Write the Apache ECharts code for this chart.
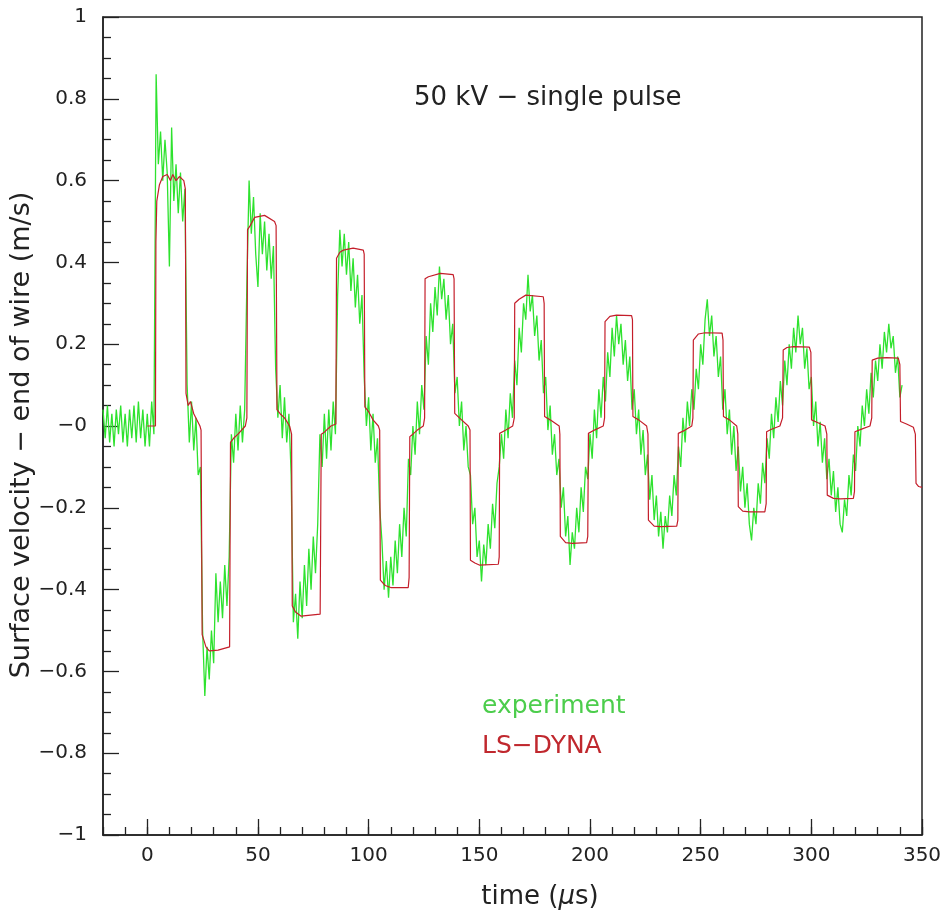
<!DOCTYPE html>
<html><head><meta charset="utf-8">
<script src="https://cdn.jsdelivr.net/npm/echarts@6/dist/echarts.min.js"></script>
<style>html,body{margin:0;padding:0;background:#fff}#c{width:944px;height:912px}</style>
</head><body><div id="c"></div><script>
// experiment: sampled every 1 µs starting at -20 µs
const expStart = -20;
const expStep = 1;
const expV = [
 0.04,-0.03,0.05,-0.04,0.03,-0.05,0.04,-0.02,0.05,-0.04,
 0.03,-0.05,0.04,-0.03,0.05,-0.04,0.06,-0.03,0.04,-0.05,
 0.03,-0.05,0.06,-0.02,
 0.86,0.64,0.72,0.6,0.7,0.62,0.39,0.73,0.55,0.64,0.52,0.62,0.5,0.58,
 0.1,-0.04,0.06,-0.06,0.02,-0.12,-0.1,
 -0.5,-0.66,-0.54,-0.62,-0.5,-0.58,-0.36,-0.48,-0.38,-0.47,-0.34,-0.44,-0.32,
 -0.02,-0.09,0.03,-0.06,0.05,-0.04,0.04,
 0.35,0.6,0.47,0.56,0.42,0.34,0.52,0.42,0.5,0.38,0.47,0.36,0.44,
 0.14,0.02,0.1,-0.03,0.07,-0.04,0.03,
 -0.12,-0.48,-0.41,-0.52,-0.38,-0.47,-0.34,-0.44,-0.3,-0.4,-0.27,-0.36,-0.24,
 -0.02,-0.1,0.03,-0.08,0.04,-0.06,0.06,-0.02,
 0.32,0.48,0.39,0.47,0.37,0.45,0.33,0.41,0.29,0.37,0.25,0.32,
 0.12,0.0,0.07,-0.06,0.03,-0.09,-0.03,
 -0.2,-0.28,-0.4,-0.33,-0.42,-0.32,-0.39,-0.28,-0.36,-0.24,-0.32,-0.2,-0.27,
 -0.08,-0.12,0.0,-0.07,0.06,-0.02,0.1,0.04,
 0.22,0.15,0.3,0.23,0.34,0.27,0.39,0.31,0.36,0.26,0.32,0.2,0.25,
 0.08,0.12,0.0,0.06,-0.06,0.0,-0.1,
 -0.12,-0.24,-0.2,-0.32,-0.28,-0.38,-0.29,-0.34,-0.24,-0.3,-0.19,-0.25,-0.14,
 -0.1,-0.02,-0.08,0.04,-0.03,0.08,0.02,
 0.16,0.1,0.24,0.18,0.3,0.26,0.37,0.28,0.32,0.22,0.27,0.16,0.21,
 0.08,0.12,-0.01,0.05,-0.07,-0.02,-0.12,-0.08,
 -0.2,-0.15,-0.27,-0.22,-0.34,-0.26,-0.3,-0.2,-0.26,-0.15,-0.21,-0.1,
 -0.13,-0.02,-0.08,0.04,-0.03,0.09,0.02,0.12,
 0.06,0.18,0.12,0.24,0.17,0.27,0.2,0.25,0.15,0.21,0.11,0.17,
 0.04,0.09,-0.02,0.04,-0.07,-0.01,-0.12,-0.07,
 -0.18,-0.12,-0.23,-0.17,-0.27,-0.21,-0.3,-0.22,-0.26,-0.17,-0.22,-0.12,-0.17,
 -0.05,-0.1,0.02,-0.04,0.06,0.0,0.09,
 0.04,0.14,0.09,0.2,0.15,0.26,0.31,0.22,0.27,0.17,0.22,0.12,0.17,
 0.04,0.09,-0.02,0.04,-0.07,0.0,-0.11,-0.05,
 -0.16,-0.1,-0.2,-0.14,-0.24,-0.28,-0.2,-0.24,-0.14,-0.19,-0.09,-0.14,
 -0.03,-0.08,0.03,-0.03,0.07,0.01,0.11,0.05,
 0.16,0.1,0.2,0.14,0.24,0.18,0.27,0.2,0.24,0.14,0.19,0.09,
 0.12,0.0,0.06,-0.05,0.01,-0.09,-0.03,-0.13,
 -0.08,-0.17,-0.11,-0.21,-0.15,-0.24,-0.26,-0.18,-0.22,-0.12,-0.17,-0.07,
 -0.11,0.0,-0.05,0.05,0.0,0.09,0.03,0.13,
 0.07,0.16,0.11,0.2,0.14,0.23,0.18,0.25,0.19,0.22,0.13,0.17,0.07,0.1
];
// LS-DYNA simulation
const dynaT = [
 0,3.7,3.9,4.3,5.5,7,9,10.5,11.5,13,14.5,16.5,17.2,17.5,18.5,19.5,21,23.8,24.3,24.8,26.5,28,32,37.2,37.6,39,41,44.3,45,45.3,46.5,48.5,53,57.5,58.2,58.6,60,62,64.3,65.2,65.5,67,69.5,78.1,78.6,80,83,85.2,85.5,87,88.6,93,97.6,98,98.3,100,102,104.4,105,105.3,107.5,110,117.9,118.3,118.6,120,122,124.7,125.3,125.5,127,132.4,138.2,138.6,138.9,141,145,145.8,146,148,150,158.6,159,159.2,162,165.1,165.8,166,168,171,178.9,179.3,179.5,182,186.1,186.4,186.6,189,192,198.5,199,199.3,202,206,206.6,206.8,209,212,218.8,219.2,219.4,222,225.6,226.2,226.4,229,232,239.2,239.7,239.9,243,246,246.5,246.7,249,252,259.7,260.1,260.3,263,266.3,266.8,267,269,272,279,279.6,279.8,282,285.8,287,287.3,289,292,299.1,299.8,300.1,303,306.2,307,307.2,310,313,319,319.5,319.7,323,326.5,327.3,327.5,330,334,339.3,340,340.3,343,346.1,347,347.3,348.5,350
];
const dynaV = [
 0,0,0.45,0.55,0.59,0.61,0.615,0.6,0.615,0.6,0.61,0.6,0.58,0.08,0.05,0.06,0.03,0.0,-0.01,-0.51,-0.54,-0.55,-0.548,-0.54,-0.04,-0.03,-0.02,0.0,0.02,0.48,0.49,0.51,0.515,0.5,0.49,0.04,0.03,0.02,0.0,-0.02,-0.44,-0.455,-0.465,-0.46,-0.02,-0.015,0.0,0.005,0.41,0.425,0.43,0.435,0.43,0.42,0.047,0.035,0.015,0.0,-0.01,-0.377,-0.39,-0.395,-0.395,-0.37,-0.026,-0.02,-0.01,0.0,0.02,0.36,0.365,0.373,0.37,0.36,0.031,0.02,0.0,-0.01,-0.328,-0.335,-0.34,-0.338,-0.32,-0.018,-0.01,0.0,0.02,0.3,0.31,0.32,0.316,0.3,0.023,0.015,0.0,-0.02,-0.27,-0.285,-0.287,-0.285,-0.27,-0.018,-0.01,0.0,0.02,0.255,0.268,0.271,0.27,0.26,0.023,0.015,0.0,-0.02,-0.23,-0.245,-0.246,-0.245,-0.23,-0.018,-0.01,0.0,0.02,0.21,0.225,0.228,0.227,0.21,0.023,0.015,0.0,-0.02,-0.197,-0.208,-0.21,-0.21,-0.19,-0.014,-0.008,0.0,0.02,0.186,0.192,0.194,0.193,0.18,0.015,0.008,0.0,-0.02,-0.169,-0.177,-0.178,-0.177,-0.16,-0.014,-0.007,0.0,0.02,0.161,0.166,0.167,0.166,0.15,0.011,0.005,-0.003,-0.02,-0.14,-0.148,-0.15
];
const xMajorTicks = [0,50,100,150,200,250,300,350];
const xMinorInterval = 10;
const seriesNames = ['experiment', 'LS\u2212DYNA'];
const noteText = '50 kV \u2212 single pulse';
const yTitle = 'Surface velocity \u2212 end of wire (m/s)';
const xTitle = 'time ({i|\u03bc}s)';

const FONT = 'DejaVu Sans';
const INK = '#222';
const GREEN = '#2ee22e';
const RED = '#c41e2a';

const expData = expV.map((v, i) => [expStart + i * expStep, v]);
const dynaData = dynaT.map((t, i) => [t, dynaV[i]]);
const MINUS = '\u2212';
function fmtY(v) {
  if (Math.abs(v) < 1e-9) return MINUS + '0';
  const s = String(Math.round(Math.abs(v) * 10) / 10);
  return v < 0 ? MINUS + s : s;
}

const chart = echarts.init(document.getElementById('c'), null, {renderer: 'canvas'});
chart.setOption({
  animation: false,
  backgroundColor: '#fff',
  textStyle: {fontFamily: FONT},
  grid: {left: 103, right: 22, top: 17, bottom: 77, show: true, borderColor: INK, borderWidth: 1.5,
         backgroundColor: 'transparent', outerBoundsMode: 'none', containLabel: false},
  xAxis: [{
    type: 'value', min: -20, max: 350, interval: xMinorInterval, position: 'bottom',
    axisLine: {show: true, onZero: false, lineStyle: {color: INK, width: 1.5}},
    axisTick: {show: true, inside: true, length: 8, lineStyle: {color: INK, width: 1.3}},
    axisLabel: {show: true, customValues: xMajorTicks, formatter: v => String(v), margin: 11,
                fontSize: 20, color: INK, fontFamily: FONT},
    splitLine: {show: false}
  }, {
    type: 'value', min: -20, max: 350, position: 'bottom',
    axisLine: {show: false, onZero: false},
    axisTick: {show: true, inside: true, length: 16, customValues: xMajorTicks, lineStyle: {color: INK, width: 1.3}},
    axisLabel: {show: false},
    splitLine: {show: false}
  }],
  yAxis: {
    type: 'value', min: -1, max: 1, interval: 0.2,
    axisLine: {show: true, onZero: false, lineStyle: {color: INK, width: 1.5}},
    axisTick: {show: true, inside: true, length: 16, lineStyle: {color: INK, width: 1.3}},
    minorTick: {show: true, splitNumber: 4, length: 8, lineStyle: {color: INK, width: 1.3}},
    axisLabel: {formatter: fmtY, margin: 16, fontSize: 20, color: INK, fontFamily: FONT},
    splitLine: {show: false}, minorSplitLine: {show: false}
  },
  legend: {
    show: true, orient: 'vertical', left: 477, top: 694, icon: 'none', itemWidth: 0, itemHeight: 10,
    itemGap: 15, selectedMode: false, padding: 0,
    textStyle: {fontSize: 25, fontFamily: FONT},
    data: [
      {name: seriesNames[0], textStyle: {color: '#4ccd4c'}},
      {name: seriesNames[1], textStyle: {color: '#c0282e'}}
    ]
  },
  graphic: [{
    type: 'text', left: 414, top: 85,
    style: {text: noteText, fontSize: 26, fontFamily: FONT, fill: INK}
  }, {
    type: 'text', x: 22, y: 435, rotation: Math.PI / 2,
    style: {text: yTitle, fontSize: 27, fontFamily: FONT, fill: INK, align: 'center', verticalAlign: 'middle'}
  }, {
    type: 'text', x: 540, y: 897,
    style: {text: xTitle, fontSize: 26, fontFamily: FONT, fill: INK, align: 'center', verticalAlign: 'middle',
            rich: {i: {fontStyle: 'italic', fontSize: 26, fontFamily: FONT, fill: INK}}}
  }],
  series: [
    {type: 'line', name: seriesNames[0], data: expData, symbol: 'none', showSymbol: false,
     lineStyle: {color: GREEN, width: 1.3}, itemStyle: {color: GREEN}, z: 2, silent: true},
    {type: 'line', name: seriesNames[1], data: dynaData, symbol: 'none', showSymbol: false,
     lineStyle: {color: RED, width: 1.2}, itemStyle: {color: RED}, z: 3, silent: true}
  ]
});
</script></body></html>
